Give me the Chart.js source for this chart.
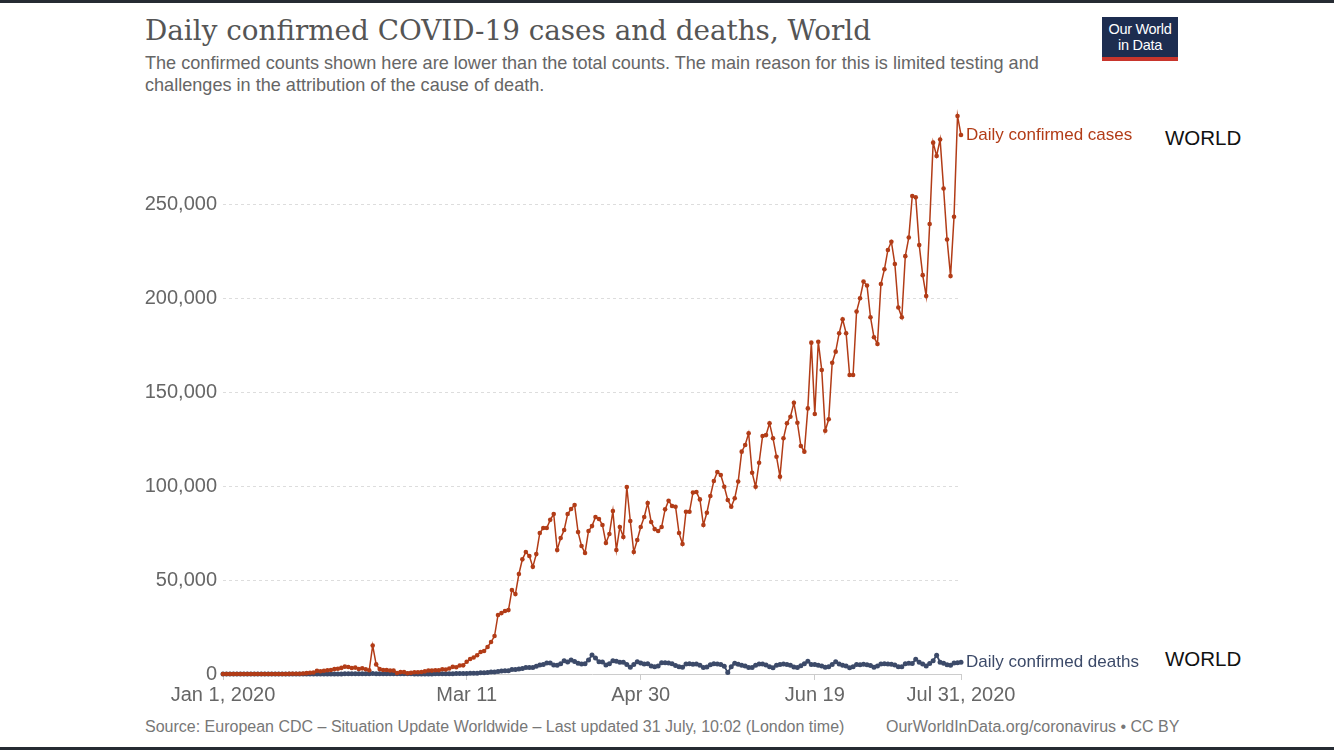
<!DOCTYPE html>
<html>
<head>
<meta charset="utf-8">
<script src="https://cdn.jsdelivr.net/npm/chart.js@4.4.1/dist/chart.umd.min.js"></script>
<style>
  body { margin: 0; width: 1334px; height: 750px; background: #fff; position: relative; overflow: hidden; font-family: "Liberation Sans", Arial, sans-serif; }
  .bar { position: absolute; left: 0; width: 1334px; height: 3px; background: #262b33; }
  .title { position: absolute; left: 145px; top: 13px; font-family: "DejaVu Serif", serif; font-size: 27.8px; line-height: 36px; color: #555; white-space: nowrap; }
  .subtitle { position: absolute; left: 145px; top: 53px; font-size: 18.1px; line-height: 21.5px; color: #666; white-space: nowrap; }
  .logo { position: absolute; left: 1102px; top: 17px; width: 76px; background: #1d2d50; border-bottom: 4px solid #c8352c; color: #fff; font-size: 14.5px; line-height: 16px; text-align: center; padding-top: 4px; height: 36px; letter-spacing: -0.3px; }
  .footer { position: absolute; top: 718px; font-size: 16px; color: #777; white-space: nowrap; }
  .world { position: absolute; left: 1165px; font-size: 20.5px; color: #111; }
  #wrap { position: absolute; left: 145px; top: 94px; width: 1189px; height: 656px; }
</style>
</head>
<body>
<div class="bar" style="top:0"></div>
<div class="bar" style="top:747px"></div>
<div class="title">Daily confirmed COVID-19 cases and deaths, World</div>
<div class="subtitle">The confirmed counts shown here are lower than the total counts. The main reason for this is limited testing and<br>challenges in the attribution of the cause of death.</div>
<div class="logo">Our World<br>in Data</div>
<div class="world" style="top:126px">WORLD</div>
<div class="world" style="top:647px">WORLD</div>
<div class="footer" style="left:145px">Source: European CDC – Situation Update Worldwide – Last updated 31 July, 10:02 (London time)</div>
<div class="footer" style="left:886px">OurWorldInData.org/coronavirus • CC BY</div>
<div id="wrap"><canvas id="chart"></canvas></div>
<script>
// one value per day, Jan 1 2020 -> Jul 31 2020
const cases = [
  0, 0, 0, 0, 0, 0, 0, 0, 0, 0, 0, 0, 0, 0, 0, 0, 0, 0, 0,
  80, 150, 140, 100, 270, 450, 670,
  800, 1750, 1460, 1740, 1980, 2100, 2600, 2830, 3240, 3900, 3700, 3200, 3400, 2660, 3000, 2500, 2000,
  15100,
  5100, 2600, 2100, 2100, 1900, 1800, 550, 1000, 1000, 400, 600, 900, 900, 1100, 1400, 1900,
  1800, 2000, 2000, 2500, 2400, 2900, 3800, 3600, 4500, 4600, 6500,
  8000, 8800, 10000, 11700, 12200, 14400, 17000, 20200, 31400, 32400, 33500, 34000, 44700, 42500, 53200,
  61000, 64900, 62800, 57000, 63800, 75000, 77700, 77700, 82000, 85100, 66000, 72300, 76600, 85100, 87800,
  89900, 75500, 68100, 64400, 76100, 78700, 83500, 82500, 79300, 69700, 74500, 86700, 66000, 78200, 72900,
  99500, 81400, 64900, 71300, 78200, 83500, 91000, 80900, 77100, 76100, 78200, 87600, 92200, 89400, 89000, 75000,
  69200, 86300, 86300, 96500, 96800, 92900, 79300, 85800, 94700, 102700, 107500, 105900, 99600, 92600, 89000,
  93500, 102400, 118300, 121800, 128100, 107100, 99600, 112400, 126600, 127100, 133400, 125400, 115600, 105000, 125400,
  133400, 136900, 144300, 133700, 121300, 118300, 141300, 176300, 138300, 176800, 161700, 129400, 135500, 165600, 171500,
  181300, 188700, 181300, 159100, 159100, 192800, 199900, 208800, 206700, 189800, 179200, 175600,
  207500, 215300, 225600, 230000, 218100, 195000, 189800, 222300, 232200, 254300, 253600, 228200,
  212200, 201100, 239400, 282700, 275600, 284400, 258300, 231200, 211700, 243300, 296900, 286800
]
const deaths = [
  0, 0, 0, 0, 0, 0, 0, 0, 0, 0, 0, 0, 0, 0, 0, 0, 0, 0, 0, 0, 0,
  17, 8, 15, 15, 24, 26, 26, 38, 43, 46, 45,
  57, 64, 66, 73, 73, 86, 89, 97, 108, 97, 121,
  254,
  143, 142, 106, 98, 139, 115, 118, 109, 97, 150, 71, 52, 29, 44, 47, 35,
  42, 67, 80, 71, 93, 106, 101, 229, 240, 210, 290,
  340, 430, 420, 620, 680, 800, 1000, 1100, 1350,
  1600, 1700, 1700, 2400, 2400, 2700, 2900, 3500, 3400, 3400, 4100,
  4800, 5000, 5900, 5900, 4800, 4600, 5500, 7000, 6400, 7400,
  6700, 5700, 5300, 5500, 7500, 10100, 8500, 6500, 6400, 4800,
  5500, 7100, 6800, 6300, 6200, 5000, 3600, 5000, 6500, 5900,
  5300, 5400, 4200, 3800, 4200, 6000, 6000, 5800, 5500, 4500,
  3800, 3600, 5300, 5500, 5200, 5300, 4600, 3500, 3700, 4900,
  5500, 5300, 5100, 4100, 800, 3900, 5700, 5200, 4700, 4300,
  3400, 3400, 4700, 5300, 5300, 4800, 3900, 3300, 4600, 5000,
  5300, 5100, 4700, 3700, 3500, 4400, 5400, 6800, 5100, 5100,
  4700, 4200, 3600, 3900, 5100, 6500, 5300, 4600, 4300, 3300,
  3800, 5000, 4900, 5200, 4900, 4500, 3600, 4200, 5300, 5500,
  5300, 5200, 4800, 3900, 3800, 5400, 5700, 5600, 7800, 6300,
  5300, 4200, 5600, 7000, 10000, 6300, 5700, 4900, 4600, 5900, 6000, 6200
]
const seriesNames = ['Daily confirmed cases', 'Daily confirmed deaths']
const seriesColors = ['#b23c17', '#3c4a69']
const xTickDays = [0, 70, 120, 170, 212]
const xTickLabels = ['Jan 1, 2020', 'Mar 11', 'Apr 30', 'Jun 19', 'Jul 31, 2020']
const yTicks = [0, 50000, 100000, 150000, 200000, 250000]

const toPoints = (arr) => arr.map((v, i) => ({ x: i, y: v }))

// label at the end of each line
const endLabels = {
  id: 'endLabels',
  afterDatasetsDraw(chart) {
    const ctx = chart.ctx
    chart.data.datasets.forEach((ds, i) => {
      const meta = chart.getDatasetMeta(i)
      const last = meta.data[meta.data.length - 1]
      ctx.save()
      ctx.font = '17px "Liberation Sans", Arial, sans-serif'
      ctx.fillStyle = ds.borderColor
      ctx.textBaseline = 'middle'
      ctx.fillText(ds.label, last.x + 5, last.y)
      ctx.restore()
    })
  }
}

new Chart(document.getElementById('chart'), {
  type: 'line',
  data: {
    datasets: [
      {
        label: seriesNames[0],
        data: toPoints(cases),
        borderColor: seriesColors[0],
        backgroundColor: seriesColors[0],
        borderWidth: 1.5,
        pointRadius: 2.3,
        pointBorderWidth: 0,
        clip: false,
      },
      {
        label: seriesNames[1],
        data: toPoints(deaths),
        borderColor: seriesColors[1],
        backgroundColor: seriesColors[1],
        borderWidth: 1.8,
        pointRadius: 2.5,
        pointBorderWidth: 0,
        clip: false,
      },
    ],
  },
  options: {
    responsive: true,
    maintainAspectRatio: false,
    animation: false,
    layout: { padding: { left: 0, right: 373, top: 12, bottom: 36 } },
    plugins: { legend: { display: false }, tooltip: { enabled: false } },
    scales: {
      x: {
        type: 'linear',
        min: 0,
        max: cases.length - 1,
        afterBuildTicks: (axis) => { axis.ticks = xTickDays.map((v) => ({ value: v })) },
        afterFit: (axis) => { axis.height = 40 },
        grid: { drawOnChartArea: false, drawTicks: true, tickLength: 6, color: '#ccc' },
        border: { display: true, color: '#ccc' },
        ticks: {
          autoSkip: false,
          maxRotation: 0,
          padding: 3,
          color: '#666',
          font: { family: '"Liberation Sans", Arial, sans-serif', size: 20 },
          callback: (value) => xTickLabels[xTickDays.indexOf(value)],
        },
      },
      y: {
        min: 0,
        max: 299000,
        afterBuildTicks: (axis) => { axis.ticks = yTicks.map((v) => ({ value: v })) },
        afterFit: (axis) => { axis.width = 78 },
        grid: { color: '#ddd', drawTicks: false },
        border: { display: false, dash: [3, 3] },
        ticks: {
          padding: 6,
          color: '#666',
          font: { family: '"Liberation Sans", Arial, sans-serif', size: 20 },
          callback: (value) => value.toLocaleString('en-US'),
        },
      },
    },
  },
  plugins: [endLabels],
})
</script>
</body>
</html>
